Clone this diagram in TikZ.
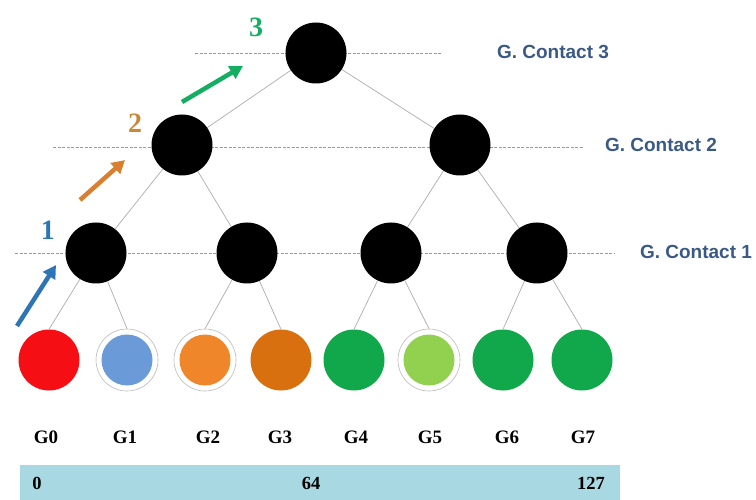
\documentclass[tikz,border=0pt]{standalone}
\usepackage{fontspec}
\setmainfont{Liberation Serif}
\newfontfamily\lsans{Liberation Sans}
\usetikzlibrary{backgrounds,arrows.meta}
\definecolor{barblue}{HTML}{A8D8E2}
\definecolor{contactcol}{HTML}{3A5A85}
\definecolor{cred}{HTML}{F50F14}
\definecolor{cblue}{HTML}{6A9AD8}
\definecolor{corange}{HTML}{F0862A}
\definecolor{cdorange}{HTML}{D8700F}
\definecolor{cgreen}{HTML}{10A84A}
\definecolor{clgreen}{HTML}{92D050}
\definecolor{arrblue}{HTML}{2E75B6}
\definecolor{arrorange}{HTML}{D98030}
\definecolor{arrgreen}{HTML}{14AE62}
\definecolor{numorange}{HTML}{C8883A}
\tikzset{
  innernode/.style={circle, fill=black, minimum size=61pt, inner sep=0pt},
  leafnode/.style={circle, fill=#1, minimum size=61pt, inner sep=0pt},
  ringnode/.style={circle, fill=white, draw=gray!55, line width=0.6pt, minimum size=62pt, inner sep=0pt,
    path picture={\fill[#1] (path picture bounding box.center) circle (25.5pt);}},
  treeedge/.style={draw=gray!65, line width=0.7pt},
  levelline/.style={draw=gray!80, line width=0.6pt, dash pattern=on 3pt off 1.5pt},
  contact/.style={font=\lsans\bfseries\fontsize{19}{21}\selectfont, text=contactcol},
  glabel/.style={font=\bfseries\fontsize{19}{21}\selectfont},
  barnum/.style={font=\bfseries\fontsize{18.5}{20}\selectfont},
  lvlnum/.style={font=\bfseries\fontsize{28}{30}\selectfont, text=#1},
  climb/.style={draw=#1, line width=4.5pt, -{Triangle[length=13pt,width=14pt]}},
}
\begin{document}
\begin{tikzpicture}[x=1pt,y=-1pt]
\useasboundingbox (0,0) rectangle (756,500);
% tree nodes
\node[innernode] (t) at (316,53) {};
\node[innernode] (l2a) at (182,145) {};
\node[innernode] (l2b) at (460,145) {};
\node[innernode] (l1a) at (96,253) {};
\node[innernode] (l1b) at (247,253) {};
\node[innernode] (l1c) at (391,253) {};
\node[innernode] (l1d) at (537,253) {};
% leaves
\node[leafnode=cred] (g0) at (49,360) {};
\node[ringnode=cblue] (g1) at (127,360) {};
\node[ringnode=corange] (g2) at (205,360) {};
\node[leafnode=cdorange] (g3) at (281,360) {};
\node[leafnode=cgreen] (g4) at (354,360) {};
\node[ringnode=clgreen] (g5) at (429,360) {};
\node[leafnode=cgreen] (g6) at (503,360) {};
\node[leafnode=cgreen] (g7) at (582,360) {};
% dashed level lines endpoints
\coordinate (d3a) at (195,53); \coordinate (d3b) at (442,53);
\coordinate (d2a) at (53,147); \coordinate (d2b) at (584,147);
\coordinate (d1a) at (15,253); \coordinate (d1b) at (614,253);
\begin{scope}[on background layer]
\draw[levelline] (d3a) -- (d3b);
\draw[levelline] (d2a) -- (d2b);
\draw[levelline] (d1a) -- (d1b);
\draw[treeedge] (t) -- (l2a);
\draw[treeedge] (t) -- (l2b);
\draw[treeedge] (l2a) -- (l1a);
\draw[treeedge] (l2a) -- (l1b);
\draw[treeedge] (l2b) -- (l1c);
\draw[treeedge] (l2b) -- (l1d);
\draw[treeedge] (l1a) -- (g0.north);
\draw[treeedge] (l1a) -- (g1.north);
\draw[treeedge] (l1b) -- (g2.north);
\draw[treeedge] (l1b) -- (g3.north);
\draw[treeedge] (l1c) -- (g4.north);
\draw[treeedge] (l1c) -- (g5.north);
\draw[treeedge] (l1d) -- (g6.north);
\draw[treeedge] (l1d) -- (g7.north);
\end{scope}
% contact labels
\node[contact] (c3) at (553,52) {G. Contact 3};
\node[contact] (c2) at (661,145) {G. Contact 2};
\node[contact] (c1) at (696,252) {G. Contact 1};
% climbing arrows
\coordinate (a1s) at (17,326); \coordinate (a1e) at (56,265);
\coordinate (a2s) at (80,200); \coordinate (a2e) at (125,160);
\coordinate (a3s) at (182,102); \coordinate (a3e) at (243,66);
\draw[climb=arrblue] (a1s) -- (a1e);
\draw[climb=arrorange] (a2s) -- (a2e);
\draw[climb=arrgreen] (a3s) -- (a3e);
\node[lvlnum=arrblue] (n1) at (48,230) {1};
\node[lvlnum=numorange] (n2) at (135,123) {2};
\node[lvlnum=arrgreen] (n3) at (256,27) {3};
% leaf labels
\node[glabel] (lg0) at (46,437) {G0};
\node[glabel] (lg1) at (125,437) {G1};
\node[glabel] (lg2) at (208,437) {G2};
\node[glabel] (lg3) at (280,437) {G3};
\node[glabel] (lg4) at (356,437) {G4};
\node[glabel] (lg5) at (430,437) {G5};
\node[glabel] (lg6) at (507,437) {G6};
\node[glabel] (lg7) at (583,437) {G7};
% bar
\node[fill=barblue, minimum width=600pt, minimum height=35pt, inner sep=0pt, anchor=north west] (bar) at (20,465) {};
\node[barnum] (b0) at (37,483) {0};
\node[barnum] (b64) at (311,483) {64};
\node[barnum] (b127) at (591,483) {127};
\end{tikzpicture}
\end{document}
